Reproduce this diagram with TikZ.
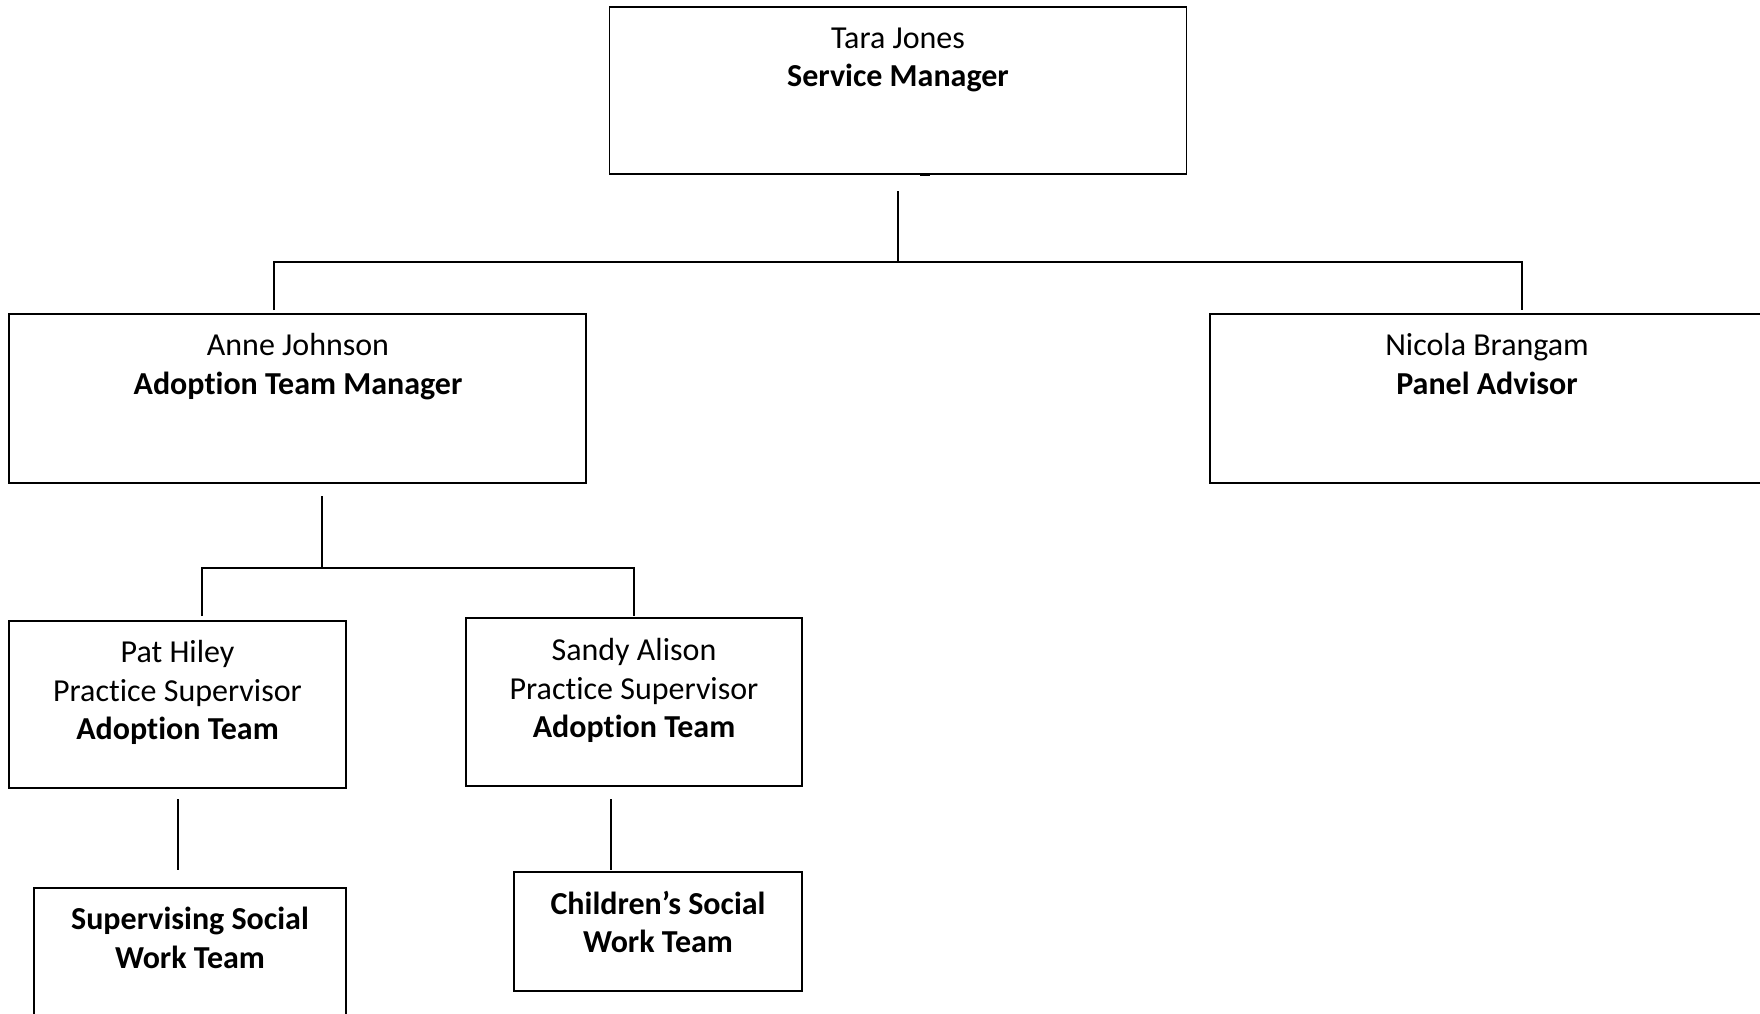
\documentclass[tikz,border=0pt]{standalone}
\usepackage{fontspec}
\setmainfont[Ligatures={NoCommon}]{Carlito}
\newcommand{\ststrut}{\rule{0pt}{26pt}}
\begin{document}
\begin{tikzpicture}[x=1pt,y=-1pt,
  box/.style={draw, line width=1.6pt, inner sep=0pt, outer sep=0pt},
  txt/.style={anchor=north, inner sep=0pt, align=center, font=\fontsize{32}{38.3}\selectfont},
  conn/.style={line width=1.4pt}]
\path[use as bounding box] (0,0) rectangle (1760,1013);
\clip (0,0) rectangle (1760,1013);
% boxes
\node[box, minimum width=577pt, minimum height=167pt] (sm) at (898,90.5) {};
\node[box, minimum width=577pt, minimum height=169pt] (atm) at (297.5,398.5) {};
\node[box, minimum width=577pt, minimum height=169pt] (pa) at (1498.5,398.5) {};
\node[box, minimum width=337pt, minimum height=167pt] (ph) at (177.5,704.5) {};
\node[box, minimum width=336pt, minimum height=168pt] (sa) at (634,702) {};
\node[box, minimum width=312pt, minimum height=140pt] (sswt) at (190,958) {};
\node[box, minimum width=288pt, minimum height=119pt] (cswt) at (658,931.5) {};
% texts
\node[txt] (smt) at (898,22.2) {\ststrut Tara Jones\\\textbf{Service Manager}};
\node[txt] (atmt) at (298,329.5) {\ststrut Anne Johnson\\\textbf{Adoption Team Manager}};
\node[txt] (pat) at (1487,329.5) {\ststrut Nicola Brangam\\\textbf{Panel Advisor}};
\node[txt] (pht) at (177.5,636.5) {\ststrut Pat Hiley\\Practice Supervisor\\\textbf{Adoption Team}};
\node[txt] (sat) at (634,634.5) {\ststrut Sandy Alison\\Practice Supervisor\\\textbf{Adoption Team}};
\node[txt] (sswtt) at (190,903.5) {\ststrut\textbf{Supervising Social}\\\textbf{Work Team}};
\node[txt] (cswtt) at (658,888.2) {\ststrut\textbf{Children’s Social}\\\textbf{Work Team}};
% small mark on the bottom edge of the top box
\draw[line width=3pt] ([xshift=22pt]sm.south) -- ([xshift=32pt]sm.south);
% connector coordinates
\coordinate (c1a) at (898,191);
\coordinate (c1b) at (898,262);
\coordinate (c1l) at (274,262);
\coordinate (c1le) at (274,310);
\coordinate (c1r) at (1522,262);
\coordinate (c1re) at (1522,310);
\coordinate (c2a) at (322,496);
\coordinate (c2b) at (322,568);
\coordinate (c2l) at (202,568);
\coordinate (c2le) at (202,616);
\coordinate (c2r) at (634,568);
\coordinate (c2re) at (634,616);
\coordinate (c3a) at (178,799);
\coordinate (c3b) at (178,870);
\coordinate (c4a) at (611,799);
\coordinate (c4b) at (611,870);
% connectors
\draw[conn] (c1a) -- (c1b);
\draw[conn] (c1le) -- (c1l) -- (c1r) -- (c1re);
\draw[conn] (c2a) -- (c2b);
\draw[conn] (c2le) -- (c2l) -- (c2r) -- (c2re);
\draw[conn] (c3a) -- (c3b);
\draw[conn] (c4a) -- (c4b);
\end{tikzpicture}
\end{document}
